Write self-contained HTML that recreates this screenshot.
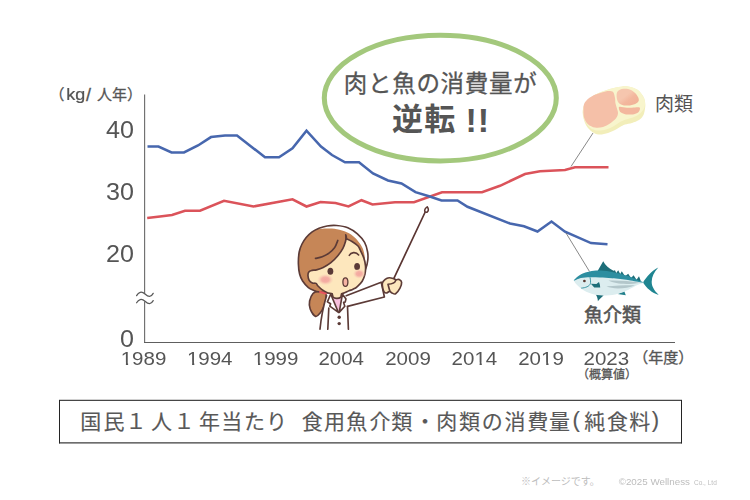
<!DOCTYPE html>
<html lang="ja">
<head>
<meta charset="utf-8">
<title>国民１人１年当たり 食用魚介類・肉類の消費量(純食料)</title>
<style>
html,body{margin:0;padding:0;background:#fff;}
body{width:750px;height:500px;overflow:hidden;font-family:"Liberation Sans",sans-serif;}
svg{display:block;}
</style>
</head>
<body>
<svg width="750" height="500" viewBox="0 0 750 500">
<rect width="750" height="500" fill="#fff"/>
<path d="M144.6 94.5V294M144.6 301.5V342.5" stroke="#707070" stroke-width="1.15" fill="none"/>
<path d="M144 342.5H675" stroke="#5e5e5e" stroke-width="1" fill="none"/>
<g stroke="#585858" stroke-width="1.25" fill="none" stroke-linecap="round">
<path d="M136.6 295.6C138.5 292.2 141.5 290.9 145 294S151 297.4 153.2 293.4"/>
<path d="M136.6 302.8C138.5 299.4 141.5 298.1 145 301.2S151 304.6 153.2 300.6"/>
</g>
<polyline points="147.2,218 160,216.5 172,215 185,210.8 200,210.8 224,200.8 253.5,206.5 292.5,199.3 306.5,206.5 320.5,202 335.5,203 348.5,206.5 361.5,200.2 372.5,204.5 395,202.3 414,202.3 442,192.3 482,192.3 500,185.8 525,174 540,171.3 565,170 575,167.2 608.5,167.2" fill="none" stroke="#DB535A" stroke-width="2.55" stroke-linejoin="miter"/>
<polyline points="147.5,146.5 158.5,146.5 171.5,152.5 184,152.5 198,145.5 211,137.1 225,135.4 237,135.4 265,157.3 279,157.3 292.5,148.3 306.5,130.6 321,146.5 332,155 345,162.3 359,162.3 373,173.5 388,180.5 401.5,183.5 415.5,192.2 429,196.2 441.5,200.5 457.5,200.5 467.5,206.8 510,223.5 524,226.3 537.5,231.5 551.5,221.5 565,231.7 591,243.1 607.5,244.2" fill="none" stroke="#4767AE" stroke-width="2.55" stroke-linejoin="miter"/>
<path d="M571 166.5L593 133M566 233L589.5 271.5" stroke="#555" stroke-width="0.7" fill="none"/>
<ellipse cx="440.3" cy="98.1" rx="116" ry="62.8" fill="#fff" stroke="#A3C87C" stroke-width="5.05"/>
<text x="343.8" y="92.2" font-size="23.5" letter-spacing="0.7" fill="#555" stroke="#555" stroke-width="0.3" font-family="'Liberation Sans','Noto Sans CJK JP',sans-serif">肉と魚の消費量が</text>
<text x="392" y="130.1" font-size="31" font-weight="bold" letter-spacing="1.3" fill="#555" font-family="'Liberation Sans','Noto Sans CJK JP',sans-serif">逆転</text>
<text x="465.5" y="131.8" font-size="34" font-weight="bold" letter-spacing="1" fill="#555" font-family="'Liberation Sans','Noto Sans CJK JP',sans-serif">!!</text>
<g fill="#555" stroke="#555" stroke-width="0.3" font-family="'Liberation Sans','Noto Sans CJK JP',sans-serif">
<text x="49.5" y="100" font-size="15">（</text>
<text x="86" y="101" font-size="18">/</text>
<text x="97" y="100" font-size="15">人年）</text>
</g>
<text x="633.3" y="363.3" font-size="15" fill="#555" stroke="#555" stroke-width="0.35" font-family="'Liberation Sans','Noto Sans CJK JP',sans-serif">（年度）</text>
<text x="577" y="379.2" font-size="12" fill="#555" stroke="#555" stroke-width="0.3" font-family="'Liberation Sans','Noto Sans CJK JP',sans-serif">（概算値）</text>
<text x="655" y="111" font-size="19" fill="#555" font-family="'Liberation Sans','Noto Sans CJK JP',sans-serif">肉類</text>
<text x="584" y="322.2" font-size="19" fill="#555" stroke="#555" stroke-width="0.55" stroke-linejoin="round" font-family="'Liberation Sans','Noto Sans CJK JP',sans-serif">魚介類</text>
<rect x="59.5" y="400.5" width="622" height="42.5" fill="#fff"/>
<path d="M59 400.35H682" stroke="#464646" stroke-width="1.3" fill="none"/>
<path d="M59 442.9H682" stroke="#3c3c3c" stroke-width="1.15" fill="none"/>
<path d="M59.5 400V443.4M681.5 400V443.4" stroke="#242424" stroke-width="1" fill="none"/>
<g fill="#585858" stroke="#585858" stroke-width="0.15" font-size="21" font-family="'Liberation Sans','Noto Sans CJK JP',sans-serif">
<text y="429.3" x="80.2 103.5 125.5 151 173.5 199 221.3 244 266">国民１人１年当たり</text>
<text y="429.3" x="301.7 324 346.3 369.5 391.3 414.5 436.2 458.9 481.8 504.5 527.2 549">食用魚介類・肉類の消費量</text>
<text x="572.5" y="427.3" font-size="22">(</text>
<text y="429.3" x="584.2 607.1 629.2">純食料</text>
<text x="651.8" y="427.3" font-size="22">)</text>
</g>
<text x="521" y="485.3" font-size="10" fill="#bdbdbd" font-family="'Liberation Sans','Noto Sans CJK JP',sans-serif">※イメージです。</text>
<g>
<defs><linearGradient id="mg" x1="0.1" y1="0" x2="1" y2="0.9"><stop offset="0.4" stop-color="#F6C6AE"/><stop offset="0.62" stop-color="#F3B79D"/><stop offset="1" stop-color="#F1B096"/></linearGradient></defs>
<path d="M628 86.4C631.6 86.8 634.9 88 637.5 89.8C640.1 91.6 642.2 94.6 643.5 97C644.8 99.4 645.1 101.8 645.3 104C645.5 106.2 645.1 108.1 644.8 110C644.4 111.9 644.2 113.8 643.2 115.5C642.2 117.2 640.9 118.8 639 120C637.1 121.2 634.3 122.2 632 123C629.7 123.8 627 123.9 625 124.6C623 125.3 621.7 126.1 620 127C618.3 127.9 617 129 615 130C613 131 610.5 132.2 608 133C605.5 133.8 602.3 134.6 600 134.6C597.7 134.6 595.8 133.9 594 133C592.2 132.1 590.4 130.5 589 129C587.6 127.5 586.5 126.2 585.5 124C584.5 121.8 583.4 118.5 583 116C582.6 113.5 582.6 111.2 583 109C583.4 106.8 583.8 105.2 585.5 103C587.2 100.8 589.9 98 593 96C596.1 94 600.2 92.4 604 91C607.8 89.6 612 88.4 616 87.6C620 86.8 624.4 86 628 86.4Z" fill="#F2EEBA"/>
<path d="M628 86.4C631.6 86.8 634.9 88 637.5 89.8C640.1 91.6 642.2 94.8 643.5 97C644.8 99.2 644.9 101.1 645 103C645.1 104.9 644.8 106.8 644 108.5C643.2 110.2 641.7 112.1 640 113.5C638.3 114.9 636.3 116 634 117C631.7 118 628.3 118.7 626 119.5C623.7 120.3 622 120.9 620 122C618 123.1 616.3 124.8 614 126C611.7 127.2 608.7 128.7 606 129.5C603.3 130.3 600.3 130.7 598 130.6C595.7 130.5 593.8 129.9 592 129C590.2 128.1 588.8 126.5 587.5 125C586.2 123.5 585.2 121.8 584.5 120C583.8 118.2 583.2 115.8 583 114C582.8 112.2 582.6 110.8 583 109C583.4 107.2 583.8 105.2 585.5 103C587.2 100.8 589.9 98 593 96C596.1 94 600.2 92.4 604 91C607.8 89.6 612 88.4 616 87.6C620 86.8 624.4 86 628 86.4Z" fill="#F8F5CD"/>
<path d="M609 91C610.8 91 612.3 91.1 613.3 92.3C614.3 93.5 614.6 96.2 615 98C615.4 99.8 615.1 101.3 615.4 103C615.7 104.7 616.4 106.3 616.8 108C617.2 109.7 618.1 111.3 618 113C617.9 114.7 617.5 116.2 616.2 118C614.9 119.8 612.2 122 610 123.5C607.8 125 605.5 126.3 603 127C600.5 127.7 597.5 128.1 595 127.6C592.5 127.1 589.8 125.8 588 124.2C586.2 122.6 585 120.4 584.2 118C583.4 115.6 583.3 112.6 583.4 110C583.5 107.4 583.4 104.9 584.8 102.6C586.2 100.3 588.6 98.1 591.6 96.4C594.6 94.7 599.7 93.2 602.6 92.3C605.5 91.4 607.2 91 609 91Z" fill="#F5C0A8"/>
<path d="M623.5 88.8C625.8 88.5 628.8 89 631 90C633.2 91 635.5 93.2 636.8 95C638.1 96.8 639.1 99 638.8 100.5C638.5 102 637 103.2 635.2 104C633.4 104.8 630.4 105.5 628 105.6C625.6 105.7 622.8 105.3 621 104.4C619.2 103.5 617.8 102.1 617.2 100C616.6 97.9 616.2 93.9 617.2 92C618.2 90.1 621.2 89.1 623.5 88.8Z" fill="url(#mg)"/>
<path d="M619.5 106.8C620.8 106.5 624.4 107.7 627 107.8C629.6 107.9 632.9 107.4 635 107.4C637.1 107.4 639.2 107 639.8 107.8C640.4 108.6 639.6 110.9 638.6 112C637.6 113.1 636.1 113.8 634 114.2C631.9 114.6 628.2 114.7 626 114.4C623.8 114.1 622.1 113.4 621 112.6C619.9 111.8 619.4 110.4 619.1 109.4C618.9 108.4 618.2 107.1 619.5 106.8Z" fill="#F3B79E"/>
</g>
<g>
<path d="M658.3 267.6C652 270.5 646.5 277 643 282.6C646.5 288.2 652 293.2 658.7 294.9C653.8 290.2 651.6 286 651.7 281.8C651.8 277 654 272 658.3 267.6Z" fill="#1F8591"/>
<path d="M597.3 271.4L603.2 261.3C605.2 265 608.5 268.3 613.5 270.8L615 270.2L616.2 272.9L618.2 270.2L620.2 274.1L621.8 271.3L625 276.3L628.2 273.8L631 277.9L633.6 275.3L636.5 279.7L639 276.3L641 281.5L612 279Z" fill="#1D6E79"/>
<path d="M595.6 294.2L603.8 295.2C601.7 297.2 599.3 299 597.9 301.2C597.8 298.6 597 296.2 595.6 294.2Z" fill="#1D6E79"/>
<path d="M617.6 293.9L624.3 291.2L625.8 295.3Z" fill="#23808C"/>
<path d="M574 280.8C574.3 281.9 575.9 284 577.6 285.6C579.3 287.2 581.2 288.9 584 290.4C586.8 291.9 590.7 293.5 594.4 294.4C598.1 295.2 602.5 295.6 606.4 295.5C610.3 295.4 614.4 294.7 618 293.8C621.6 292.9 624.7 291.4 628 289.9C631.3 288.4 635.4 286 638 284.8C640.6 283.6 643.5 283.1 643.5 282.5C643.5 281.9 640.6 281.6 638 281C635.4 280.4 632.3 279.6 628 279C623.7 278.4 616.7 277.9 612 277.6C607.3 277.3 603.7 277.1 600 277C596.3 276.9 593.2 276.7 590 276.8C586.8 276.9 583.3 277.2 581 277.6C578.7 278 577.2 278.7 576 279.2C574.8 279.7 573.7 279.7 574 280.8Z" fill="#DCEDEF"/>
<path d="M574 280.8C573.2 280.8 574.7 279.1 576 278C577.3 276.9 579.3 275.1 581.6 274C583.9 272.9 586.8 272.1 589.6 271.5C592.4 270.9 595.1 270.6 598.4 270.6C601.7 270.6 606.1 271 609.6 271.5C613.1 272 616.1 272.7 619.2 273.5C622.3 274.3 625.2 275.2 628 276.1C630.8 277.1 633.4 278.1 636 279.2C638.6 280.3 643.5 282.1 643.5 282.5C643.5 282.9 638.6 281.9 636 281.5C633.4 281.1 632 280.6 628 280C624 279.4 616.7 278.6 612 278.2C607.3 277.8 603.7 277.6 600 277.5C596.3 277.4 593.2 277.2 590 277.3C586.8 277.4 583.7 277.5 581 278.1C578.3 278.7 574.8 280.8 574 280.8Z" fill="#2C8EA0"/>
<path d="M608.5 280.6C618 280.2 630 281.2 640 282.7C629 284.8 615 284.3 608.5 280.6Z" fill="#B3C7CB"/>
<path d="M606.5 286.3C615 285.5 626 285.1 635 285.2C626 289 613 289.5 606.5 286.3Z" fill="#B3C7CB"/>
<path d="M590 277.3C590.6 280 590.7 282 590.4 283.6C589.6 286.2 585.5 287.9 581.2 288.1" fill="none" stroke="#2A8B9B" stroke-width="0.9"/>
<path d="M590.9 283.7L596.4 284L599 282.1C599.8 284 600.2 285.6 600.2 287.5L594.2 287.5Z" fill="#1D6E79"/>
<circle cx="584.4" cy="281" r="1.35" fill="#59382F"/>
</g>
<g stroke="#5C3B37" stroke-width="1.65" stroke-linejoin="round" stroke-linecap="round" fill="none">
<path d="M394 278.2L425.2 212" stroke="#5A3532" stroke-width="1.7"/>
<path d="M427.2 206.8C428.5 208.6 428.6 210.8 427.3 212C426 212.8 424.6 211.8 424.7 210.2C424.9 208.6 425.9 207.5 427.2 206.8Z" fill="#fff" stroke="#5A3532" stroke-width="1.5"/>
<path d="M325.5 293.5C324.2 292.2 320.1 291.3 318 291.3C315.9 291.3 314.4 291.9 313 293.5C311.6 295.1 310.1 298.4 309.6 301C309.1 303.6 309.2 306.4 310.2 309C311.2 311.6 313.9 315.8 315.6 316.4C317.3 317 319.1 314.1 320.5 312.5C321.9 310.9 322.9 308.8 323.8 306.5C324.7 304.2 325.7 301.2 326 299C326.3 296.8 326.8 294.8 325.5 293.5Z" fill="#C68657"/>
<path d="M327 294.5C324 304 321.3 316 320 329.5L348.4 329.5L347.5 306.5L384.4 297L381.2 282.2L345 296Z" fill="#fff" stroke="none"/>
<path d="M326.6 295.5C324 304 321.3 316 320 329.2"/>
<path d="M328.8 308L327.8 329.2"/>
<path d="M347.5 306.4L348.4 329.2"/>
<path d="M346.2 295.7L381.2 282.2L384.4 297L347.5 306.4" fill="#fff"/>
<circle cx="339.2" cy="317.2" r="1.7" fill="#5C3B37" stroke="none"/>
<circle cx="339.2" cy="323.6" r="1.7" fill="#5C3B37" stroke="none"/>
<path d="M319 228.3C321.5 227.3 324.1 226.5 327 226C329.9 225.5 333.1 225.2 336.6 225.5C340.1 225.8 344.3 226.3 347.8 227.7C351.3 229.1 354.6 231.4 357.4 233.9C360.2 236.4 362.9 239.4 364.6 242.4C366.3 245.4 367.1 249.1 367.6 252C368.1 254.9 368.1 257.3 367.8 260C367.5 262.7 367.1 265.1 365.8 268.4C364.5 271.7 363.5 276.1 360 280C356.5 283.9 350 289.8 345 292C340 294.2 334.4 293 330 293C325.6 293 321.5 292.2 318.8 291.8C316.1 291.4 315.7 291.1 314 290.4C312.3 289.7 310.3 289.2 308.4 287.6C306.5 286 304.1 283.3 302.6 281C301.1 278.7 300.3 276.8 299.6 274C298.9 271.2 298.5 267.7 298.4 264C298.3 260.3 298.6 255.3 299.2 252C299.8 248.7 300.8 246.4 302 244C303.2 241.6 304.6 239.6 306.2 237.6C307.8 235.6 309.7 233.8 311.8 232.2C313.9 230.6 316.5 229.3 319 228.3Z" fill="#C68657" stroke="none"/>
<path d="M319 228.3C321.5 227.3 324.1 226.5 327 226C329.9 225.5 333.1 225.2 336.6 225.5C340.1 225.8 344.3 226.3 347.8 227.7C351.3 229.1 354.6 231.4 357.4 233.9C360.2 236.4 362.9 239.4 364.6 242.4C366.3 245.4 367.1 249.1 367.6 252C368.1 254.9 368.1 257.3 367.8 260C367.5 262.7 367.1 265.1 365.8 268.4L365.5 263C365.4 262 365.2 259.2 364.8 257C364.4 254.8 364.1 252.2 363.3 250C362.5 247.8 361.6 246.2 360.2 244.1C358.8 242 356.9 239.4 354.7 237.4C352.5 235.4 349.8 233.7 346.8 232.3C343.9 230.9 340.3 229.8 337 229.2C333.7 228.6 330.1 228.6 327 228.6C323.9 228.6 319.9 229.1 318.5 229.2Z" fill="#fff" stroke="none"/>
<path d="M319 228.3C321.5 227.3 324.1 226.5 327 226C329.9 225.5 333.1 225.2 336.6 225.5C340.1 225.8 344.3 226.3 347.8 227.7C351.3 229.1 354.6 231.4 357.4 233.9C360.2 236.4 362.9 239.4 364.6 242.4C366.3 245.4 367.1 249.1 367.6 252C368.1 254.9 368.1 257.3 367.8 260C367.5 262.7 367.1 265.1 365.8 268.4C364.5 271.7 363.5 276.1 360 280C356.5 283.9 350 289.8 345 292C340 294.2 334.4 293 330 293C325.6 293 321.5 292.2 318.8 291.8C316.1 291.4 315.7 291.1 314 290.4C312.3 289.7 310.3 289.2 308.4 287.6C306.5 286 304.1 283.3 302.6 281C301.1 278.7 300.3 276.8 299.6 274C298.9 271.2 298.5 267.7 298.4 264C298.3 260.3 298.6 255.3 299.2 252C299.8 248.7 300.8 246.4 302 244C303.2 241.6 304.6 239.6 306.2 237.6C307.8 235.6 309.7 233.8 311.8 232.2C313.9 230.6 316.5 229.3 319 228.3Z"/>
<path d="M346.2 236C346.1 236.9 346.1 239.5 345.5 241.6C344.9 243.7 344.2 245.9 342.9 248.3C341.6 250.7 339.6 253.6 337.6 256C335.6 258.4 333.3 260.8 330.9 262.7C328.5 264.6 325.6 266.3 323.2 267.5C320.8 268.7 318.4 269.4 316.5 269.9C314.6 270.4 313.3 270 312 270.4C310.7 270.8 309.5 271.1 308.8 272C308.1 272.9 307.9 274.6 308 276C308.1 277.4 308.5 279.2 309.2 280.4C309.9 281.6 311.3 282.5 312.4 283C313.5 283.5 315.1 282.9 316 283.4C316.9 283.9 317 285 318 286C319 287 320.5 288.5 322 289.6C323.5 290.7 325.2 291.7 326.8 292.4C328.4 293.1 329.9 293.2 331.6 293.6C333.3 294 335.1 294.8 337 294.8C338.9 294.8 341 294.1 343 293.4C345 292.7 347.3 291.5 349 290.8C350.7 290.1 351.7 290 353 289.3C354.3 288.6 355.5 288.2 357 286.8C358.5 285.4 360.9 283.3 362.2 281.2C363.5 279.1 364.4 276.5 365 274C365.6 271.5 365.7 268.7 365.5 266C365.3 263.3 364.7 260.7 363.8 258C362.9 255.3 361.2 252 360.2 250C359.2 248 359.4 247.4 358 246C356.6 244.6 353.9 242.7 352 241.5C350.1 240.3 347.4 239.2 346.5 238.8Z" fill="#FDE7BD"/>
<path d="M345.7 234.8L346.3 239"/>
<path d="M337.8 240.4C337.3 241.6 336.2 245.3 334.7 247.4C333.2 249.5 331.1 251.5 329 253.1C326.9 254.7 324.4 255.9 322.2 256.8C319.9 257.7 316.6 258.1 315.5 258.4"/>
<path d="M320 292L325.8 293.6" stroke="#EB5560" stroke-width="1.9"/>
<path d="M332.4 291L332.9 297C334.5 298.6 338.5 298.8 340.8 297.2L341.6 291Z" fill="#FDE7BD" stroke="none"/>
<path d="M332.9 297.2C334.5 298.8 338.5 299 340.9 297.4L341.6 298.2L338.7 310.6L333 298.6Z" fill="#F7BFDD" stroke="none"/>
<path d="M332.2 293.9L333 297C334.5 298.7 338.5 298.9 340.8 297.3L341.5 293.9"/>
<path d="M330.6 294.2L327.4 301.9L330.6 303.8L329.8 306.2L338.4 312.4L331.2 295.2Z" fill="#fff"/>
<path d="M342.5 294.2L346 298.9L345.2 302L343.6 302.4L344.8 306.2L339.2 312.4L342.2 295.4Z" fill="#fff"/>
<ellipse cx="330.4" cy="271.2" rx="2.9" ry="3.5" fill="#5A3A37" stroke="none"/>
<ellipse cx="357.1" cy="266.5" rx="2.9" ry="3.5" fill="#5A3A37" stroke="none"/>
<path d="M349.3 255.3C350.8 252.2 356 251.4 358.6 255" stroke-width="1.6"/>
<defs><radialGradient id="bl"><stop offset="0" stop-color="#F3A79F" stop-opacity="1"/><stop offset="0.45" stop-color="#F4ABA2" stop-opacity="0.92"/><stop offset="1" stop-color="#FAD0BA" stop-opacity="0"/></radialGradient></defs>
<ellipse cx="325.4" cy="279.6" rx="8.4" ry="5.8" fill="url(#bl)" stroke="none"/>
<ellipse cx="359.2" cy="273.8" rx="6.4" ry="5" fill="url(#bl)" stroke="none"/>
<ellipse cx="345.4" cy="282.1" rx="2.5" ry="4.3" fill="#F5B3A3" stroke-width="1.3"/>
<path d="M382.4 283C382.8 281.5 384.1 280.3 385.2 279.4C386.3 278.5 387.8 277.9 389.2 277.8C390.6 277.7 392.5 278.3 393.6 278.6C394.7 278.9 395.1 279.7 396 279.8C396.9 279.9 398.3 279 399.2 279.4C400.1 279.8 401.5 280.7 401.6 282.2C401.7 283.7 401 286.3 400 288.2C399 290.1 396.9 293 395.6 293.8C394.3 294.6 393 293.4 392 293C391 292.6 390.5 291.4 389.6 291.4C388.7 291.4 387.3 292.9 386.4 293C385.5 293.1 384.6 292.6 384 291.8C383.4 291 383.1 289.7 382.8 288.2C382.5 286.7 382 284.5 382.4 283Z" fill="#FDE7BD"/>
<path d="M395.6 280.6C395 283 392.8 284 388 284.2C388.5 286 389 288.5 389.8 290.8"/>
</g>
<g font-family="'Liberation Sans',sans-serif" fill="#555" opacity="0.999" style="will-change:opacity">
<text transform="translate(134 138.4) scale(1.07 1)" font-size="23.5" text-anchor="end">40</text>
<text transform="translate(134 200.2) scale(1.07 1)" font-size="23.5" text-anchor="end">30</text>
<text transform="translate(134 262) scale(1.07 1)" font-size="23.5" text-anchor="end">20</text>
<text transform="translate(134 346.5) scale(1.07 1)" font-size="23.5" text-anchor="end">0</text>
<text transform="translate(143.5 365.4) scale(1.14 1)" font-size="18" text-anchor="middle">1989</text>
<text transform="translate(209.7 365.4) scale(1.14 1)" font-size="18" text-anchor="middle">1994</text>
<text transform="translate(275.6 365.4) scale(1.14 1)" font-size="18" text-anchor="middle">1999</text>
<text transform="translate(341.2 365.4) scale(1.14 1)" font-size="18" text-anchor="middle">2004</text>
<text transform="translate(408 365.4) scale(1.14 1)" font-size="18" text-anchor="middle">2009</text>
<text transform="translate(474.4 365.4) scale(1.14 1)" font-size="18" text-anchor="middle">2014</text>
<text transform="translate(541 365.4) scale(1.14 1)" font-size="18" text-anchor="middle">2019</text>
<text transform="translate(606.3 365.4) scale(1.14 1)" font-size="18" text-anchor="middle">2023</text>
<text transform="translate(66.2 99.6) scale(1.12 1)" font-size="16" stroke="#555" stroke-width="0.25">kg</text>
<text x="618.7" y="485.4" font-size="9.8" fill="#bdbdbd">©2025 Wellness <tspan x="694" font-size="6.5">Co., Ltd</tspan></text>
</g>
<path d="M119.5 362.4H125.9V366.2H119.5zM128.1 362.4h3.7v3.8h-3.7z" fill="#fff"/>
<path d="M185.7 362.4H192.1V366.2H185.7zM194.3 362.4h3.7v3.8h-3.7z" fill="#fff"/>
<path d="M251.6 362.4H258V366.2H251.6zM260.2 362.4h3.7v3.8h-3.7z" fill="#fff"/>
<path d="M474.7 362.4H479.6V366.2H474.7zM481.8 362.4h3.7v3.8h-3.7z" fill="#fff"/>
<path d="M541.3 362.4H546.2V366.2H541.3zM548.5 362.4h3.7v3.8h-3.7z" fill="#fff"/>
</svg>
</body>
</html>
